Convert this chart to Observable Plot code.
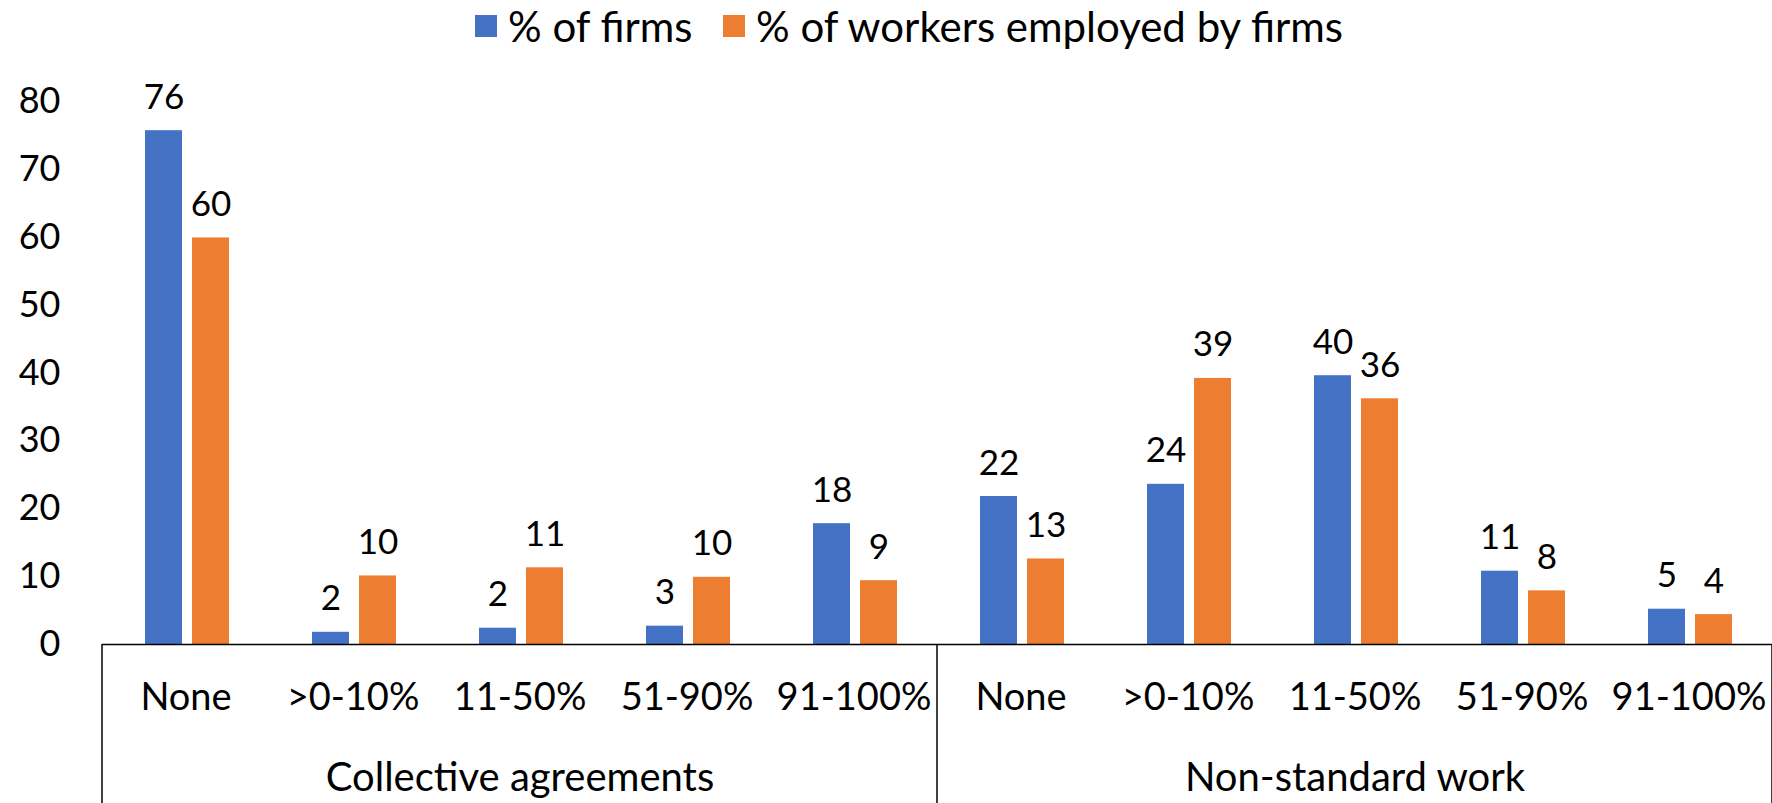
<!DOCTYPE html>
<html>
<head>
<meta charset="utf-8">
<script src="https://cdn.jsdelivr.net/npm/d3@7"></script>
<script src="https://cdn.jsdelivr.net/npm/@observablehq/plot@0.6"></script>
<style>
  html, body { margin: 0; padding: 0; background: #fff; overflow: hidden; }
  body { font-family: Lato, "Open Sans", sans-serif; color: #000; }
  #legend { position: relative; height: 55px; width: 1772px; font-size: 42px; }
  .item { position: absolute; top: 26px; transform: translateY(-50%); display: flex; align-items: center; white-space: nowrap; line-height: 1; }
  .sw { width: 22px; height: 22px; margin-right: 11px; }
  #chart svg { display: block; }
</style>
</head>
<body>
<div id="legend"></div>
<div id="chart"></div>
<script>
const groups = ["Collective agreements", "Non-standard work"];
const categories = ["None", ">0-10%", "11-50%", "51-90%", "91-100%"];
const series = ["% of firms", "% of workers employed by firms"];
const colors = ["#4472C4", "#ED7D31"];
// values in group order: Collective agreements (5), then Non-standard work (5)
const firms = [75.7, 1.8, 2.4, 2.7, 17.8, 21.8, 23.6, 39.6, 10.8, 5.2];
const workers = [59.9, 10.1, 11.3, 9.9, 9.4, 12.6, 39.2, 36.2, 7.9, 4.4];
const yTicks = [0, 10, 20, 30, 40, 50, 60, 70, 80];

const keys = [];
groups.forEach(g => categories.forEach(c => keys.push(g + "|" + c)));
const rows = [];
keys.forEach((k, i) => {
  rows.push({key: k, series: series[0], value: firms[i]});
  rows.push({key: k, series: series[1], value: workers[i]});
});
const middleKeys = new Map(groups.map(g => [g + "|" + categories[Math.floor(categories.length / 2)], g]));

// legend
const legend = document.getElementById("legend");
const legendLeft = [475, 723];
series.forEach((s, i) => {
  const it = document.createElement("div");
  it.className = "item";
  it.style.left = legendLeft[i] + "px";
  it.innerHTML = `<div class="sw" style="background:${colors[i]}"></div><span>${s}</span>`;
  legend.appendChild(it);
});

const chart = Plot.plot({
  width: 1772,
  height: 748,
  marginLeft: 102,
  marginRight: 0,
  marginTop: 46,
  marginBottom: 159,
  style: {fontFamily: "Lato, 'Open Sans', sans-serif", fontSize: "36px", color: "#000", background: "#fff"},
  fx: {domain: keys, padding: 0, axis: null, label: null},
  x: {domain: series, paddingInner: 0.21, paddingOuter: 0.86, align: 0.52, axis: null},
  y: {domain: [0, 80], label: null, axis: null},
  color: {domain: series, range: colors},
  marks: [
    Plot.axisY({ticks: yTicks, tickSize: 0, tickPadding: 42, label: null, fontSize: 36}),
    Plot.barY(rows, {fx: "key", x: "series", y: "value", fill: "series"}),
    Plot.text(rows, {fx: "key", x: "series", y: "value", text: d => String(Math.round(d.value)), lineAnchor: "bottom", dy: -22, fontSize: 35, fill: "#000"}),
    Plot.ruleY([0], {stroke: "#000", strokeWidth: 1.5}),
    Plot.axisFx({anchor: "bottom", tickSize: 0, tickPadding: 39, label: null, fontSize: 38, tickFormat: k => k.split("|")[1]}),
    Plot.axisFx({anchor: "bottom", tickSize: 0, tickPadding: 118, label: null, fontSize: 40, tickFormat: k => middleKeys.get(k) || ""})
  ]
});
document.getElementById("chart").appendChild(chart);

// group separators placed with the plot's own fx and y scales
const fx = chart.scale("fx");
const y = chart.scale("y");
const sepX = [fx.apply(keys[0]), fx.apply(keys[categories.length]), fx.apply(keys[keys.length - 1]) + fx.bandwidth];
d3.select(chart).append("g")
  .attr("stroke", "#000").attr("stroke-width", 1.5)
  .selectAll("line").data(sepX).join("line")
  .attr("x1", d => d).attr("x2", d => d)
  .attr("y1", y.apply(0)).attr("y2", 748);
</script>
</body>
</html>
